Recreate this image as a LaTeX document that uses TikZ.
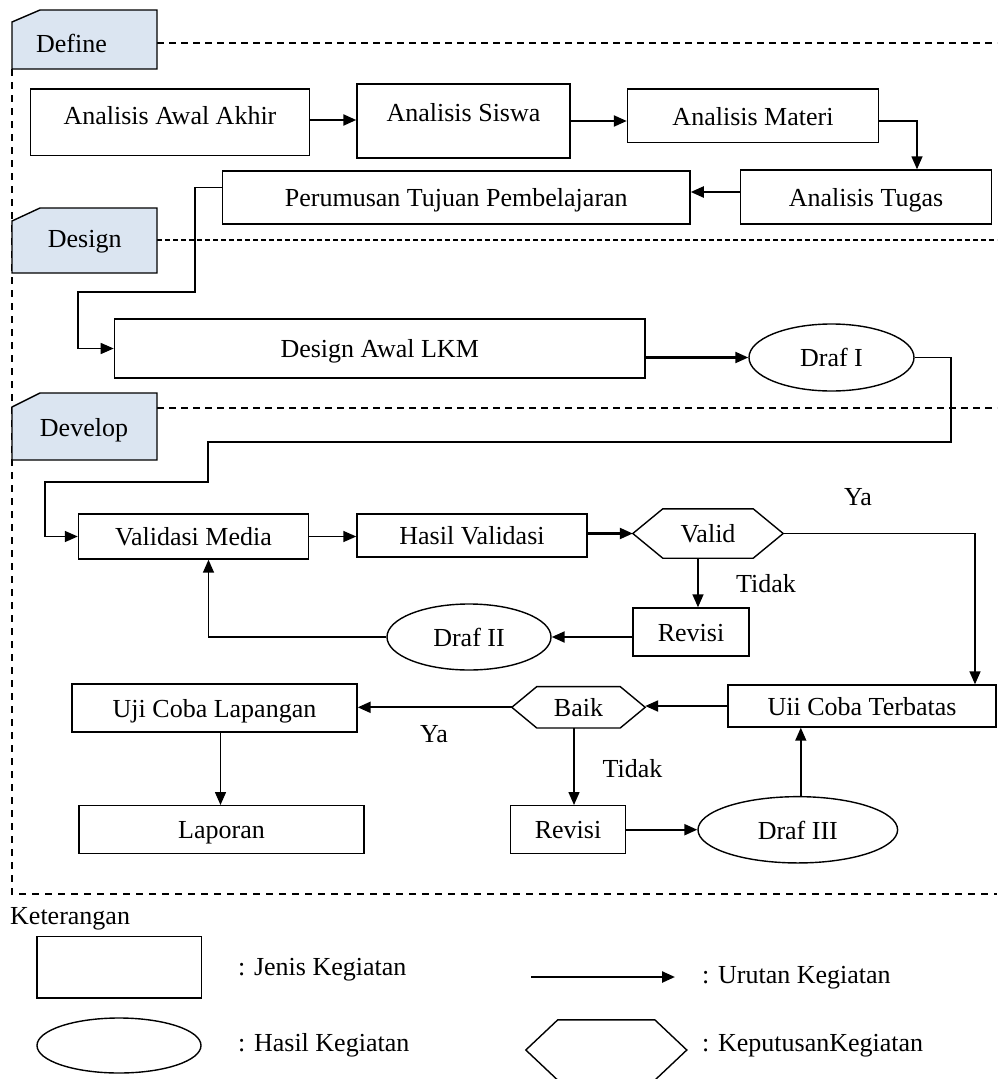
\documentclass[tikz,border=0pt]{standalone}
\usepackage{fontspec}
\setmainfont{Liberation Serif}
\usetikzlibrary{arrows.meta,shapes.geometric}
\definecolor{tabfill}{HTML}{DBE5F1}
\tikzset{
  txt/.style={font=\fontsize{26}{30}\selectfont, inner sep=0pt},
  box/.style={txt, draw, line width=1.4pt, rectangle, text height=18.5pt, text depth=0pt},
  oval/.style={txt, draw, line width=1.4pt, ellipse, text height=18.5pt, text depth=0pt},
  hexn/.style={txt, rectangle, text height=18.5pt, text depth=0pt},
  arr/.style={line width=1.5pt, -{Triangle[length=13pt,width=11pt]}},
  con/.style={line width=1.5pt},
  frame/.style={line width=2pt, dash pattern=on 7pt off 5pt},
  tab/.style={fill=tabfill, draw, line width=1.4pt},
}
\newcommand\hexpath[2]{\draw[line width=1.4pt] (#1.west) -- ([xshift=#2]#1.north west) -- ([xshift=-#2]#1.north east) -- (#1.east) -- ([xshift=-#2]#1.south east) -- ([xshift=#2]#1.south west) -- cycle;}
\begin{document}
\begin{tikzpicture}[x=1pt,y=-1pt]
\useasboundingbox (0,0) rectangle (997,1079);
% frame
\draw[frame] (157,43) -- (997,43);
\draw[line width=1.5pt, dash pattern=on 5pt off 3pt] (157,240) -- (997,240);
\draw[frame] (157,408) -- (997,408);
\draw[frame, line width=1.8pt, dash pattern=on 7pt off 6pt] (12,69) -- (12,894) -- (997,894);
% tabs
\draw[tab] (12,22) -- (40,10) -- (157,10) -- (157,69) -- (12,69) -- cycle;
\node[txt] (tdefine) at (71.5,43) {Define};
\draw[tab] (12,221) -- (40,208) -- (157,208) -- (157,273) -- (12,273) -- cycle;
\node[txt] (tdesign) at (84.7,242) {Design};
\draw[tab] (12,407) -- (40,393) -- (157,393) -- (157,460) -- (12,460) -- cycle;
\node[txt] (tdevelop) at (84,430) {Develop};
% define row
\node[box, minimum width=278.5pt, minimum height=66.7pt, text depth=14pt] (aaa) at (170,122.3) {Analisis Awal Akhir};
\node[box, minimum width=213pt, minimum height=74pt, text depth=18pt] (as) at (463.5,121) {Analisis Siswa};
\node[box, minimum width=251pt, minimum height=53.7pt] (am) at (753,115.9) {Analisis Materi};
\node[box, minimum width=251pt, minimum height=54pt] (at) at (866,197) {Analisis Tugas};
\node[box, minimum width=467.5pt, minimum height=53pt] (ptp) at (456.3,197.5) {Perumusan Tujuan Pembelajaran};
% design
\node[box, minimum width=530.6pt, minimum height=59pt] (dal) at (379.7,348.5) {Design Awal LKM};
\node[oval, minimum width=165pt, minimum height=67pt] (d1) at (831.5,357.5) {Draf I};
% develop
\node[box, minimum width=230pt, minimum height=45pt] (vm) at (193.5,536.5) {Validasi Media};
\node[box, minimum width=230pt, minimum height=43pt] (hv) at (472,535.5) {Hasil Validasi};
\node[hexn, minimum width=150pt, minimum height=49pt] (valid) at (708,533.5) {Valid};
\hexpath{valid}{30pt}
\node[box, minimum width=116pt, minimum height=48pt] (rev1) at (691,632) {Revisi};
\node[oval, minimum width=164pt, minimum height=66pt] (d2) at (469,637) {Draf II};
\node[box, minimum width=285pt, minimum height=48pt] (ucl) at (214.5,708) {Uji Coba Lapangan};
\node[hexn, minimum width=133pt, minimum height=41pt] (baik) at (578.5,707.3) {Baik};
\hexpath{baik}{25pt}
\node[box, minimum width=268pt, minimum height=42pt] (uct) at (862,706) {Uii Coba Terbatas};
\node[box, minimum width=285pt, minimum height=48pt] (lap) at (221.5,829.7) {Laporan};
\node[box, minimum width=115.5pt, minimum height=48pt] (rev2) at (568,829.7) {Revisi};
\node[oval, minimum width=199.6pt, minimum height=66.3pt] (d3) at (797.8,829.8) {Draf III};
% labels
\node[txt] (ya1) at (858,497) {Ya};
\node[txt] (tidak1) at (766,584) {Tidak};
\node[txt] (ya2) at (434,734) {Ya};
\node[txt] (tidak2) at (632.5,769) {Tidak};
% coordinates
\coordinate (k1) at (195,292);
\coordinate (k2) at (78,292);
\coordinate (k3) at (951,442);
\coordinate (k4) at (208,482);
\coordinate (k5) at (44.8,482);
% connectors
\draw[arr, line width=2.2pt] (aaa.east |- 0,120) -- (as.west |- 0,120);
\draw[arr, line width=2.2pt] (as.east) -- (as.east -| am.west);
\draw[arr] (am.east |- 0,121) -| ([xshift=51pt]at.north);
\draw[arr, line width=2.2pt] (at.west |- 0,192) -- (ptp.east |- 0,192);
\draw[arr] ([yshift=10pt]ptp.west) -| (k1) -- (k2) |- (dal.west);
\draw[arr, line width=2.2pt] (dal.east |- d1.west) -- (d1.west);
\draw[arr] (d1.east) -| (k3) -| (k4) -- (k5) |- (vm.west);
\draw[arr] (vm.east) -- (vm.east -| hv.west);
\draw[arr, line width=2.2pt] (hv.east |- valid.west) -- (valid.west);
\draw[arr] ([xshift=-10pt]valid.south) -- ([xshift=-10pt]valid.south |- rev1.north);
\draw[arr] (valid.east) -| ([xshift=113pt]uct.north);
\draw[arr, line width=2.2pt] (rev1.west |- d2.east) -- (d2.east);
\draw[arr] (d2.west) -| ([xshift=15pt]vm.south);
\draw[arr, line width=2.2pt] (uct.west) -- (uct.west -| baik.east);
\draw[arr, line width=2.2pt] (baik.west) -- (baik.west -| ucl.east);
\draw[arr] ([xshift=6pt]ucl.south) -- ([xshift=6pt]ucl.south |- lap.north);
\draw[arr] ([xshift=-4.5pt]baik.south) -- ([xshift=-4.5pt]baik.south |- rev2.north);
\draw[arr, line width=2.2pt] (rev2.east) -- (rev2.east -| d3.west);
\draw[arr] ([xshift=3pt]d3.north) -- ([xshift=3pt]d3.north |- uct.south);
% legend
\node[txt, anchor=west] (ket) at (10,919) {Keterangan};
\node[box, minimum width=164.5pt, minimum height=61.3pt] (lbox) at (119.25,967.35) {};
\node[txt, anchor=west] (l1) at (238,970) {: Jenis Kegiatan};
\coordinate (la1) at (531,977);
\coordinate (la2) at (675,977);
\draw[arr, line width=2.4pt] (la1) -- (la2);
\node[txt, anchor=west] (l2) at (702,978) {: Urutan Kegiatan};
\node[oval, minimum width=164pt, minimum height=55pt] (loval) at (119,1045.5) {};
\node[txt, anchor=west] (l3) at (238,1045) {: Hasil Kegiatan};
\node[hexn, minimum width=160.6pt, minimum height=60pt] (lhex) at (606.3,1050) {};
\hexpath{lhex}{32pt}
\node[txt, anchor=west] (l4) at (702,1046) {: KeputusanKegiatan};
\end{tikzpicture}
\end{document}
